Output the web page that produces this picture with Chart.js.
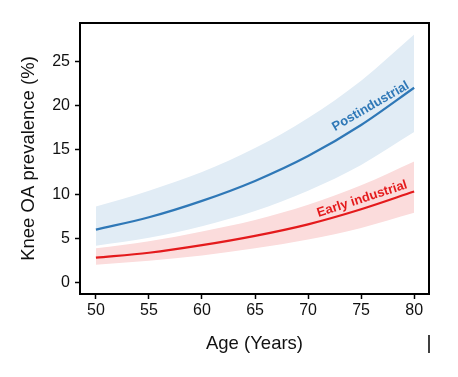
<!DOCTYPE html>
<html>
<head>
<meta charset="utf-8">
<script src="https://cdn.jsdelivr.net/npm/chart.js@4.4.1/dist/chart.umd.min.js"></script>
<style>
  html, body { margin: 0; padding: 0; background: #fff; }
  #wrap { position: relative; width: 458px; height: 377px; }
</style>
</head>
<body>
<div id="wrap"><canvas id="c" width="458" height="377"></canvas></div>
<script>
// Data
const ages = [50, 55, 60, 65, 70, 75, 80];
const postLine  = [6.0, 7.4, 9.25, 11.5, 14.3, 17.8, 22.0];
const postUpper = [8.6, 10.4, 12.5, 15.2, 18.6, 22.8, 28.0];
const postLower = [4.2, 5.1, 6.4, 8.1, 10.4, 13.3, 17.0];
const earlyLine  = [2.85, 3.4, 4.25, 5.3, 6.6, 8.3, 10.3];
const earlyUpper = [3.9, 4.7, 5.8, 7.1, 8.8, 11.0, 13.7];
const earlyLower = [2.05, 2.5, 3.1, 3.9, 4.9, 6.2, 7.9];
const xTicks = [50, 55, 60, 65, 70, 75, 80];
const yTicks = [0, 5, 10, 15, 20, 25];
const seriesLabels = ['Postindustrial', 'Early industrial'];
const xTitle = 'Age (Years)';
const yTitle = 'Knee OA prevalence (%)';

const BLUE = '#2f78b7', BLUE_BAND = '#e1ecf5';
const RED = '#e41a1c', RED_BAND = '#fbdcdc';
const FONT = "'Liberation Sans', Arial, Helvetica, sans-serif";

const pts = arr => ages.map((a, i) => ({x: a, y: arr[i]}));
const common = {pointRadius: 0, cubicInterpolationMode: 'monotone'};

const labelPlugin = {
  id: 'extras',
  afterDatasetsDraw(chart) {
    const ctx = chart.ctx, xs = chart.scales.x, ys = chart.scales.y, ca = chart.chartArea;
    const labs = [
      {t: seriesLabels[0], x: 75.9, y: 19.9, rot: -30, c: BLUE},
      {t: seriesLabels[1], x: 75.1, y: 9.45, rot: -18, c: RED}
    ];
    ctx.save();
    ctx.font = "bold 13px " + FONT;
    ctx.textAlign = 'center';
    ctx.textBaseline = 'middle';
    labs.forEach(l => {
      ctx.save();
      ctx.translate(xs.getPixelForValue(l.x), ys.getPixelForValue(l.y));
      ctx.rotate(l.rot * Math.PI / 180);
      ctx.fillStyle = l.c;
      ctx.fillText(l.t, 0, 0);
      ctx.restore();
    });
    ctx.strokeStyle = '#000';
    ctx.lineWidth = 2;
    ctx.strokeRect(ca.left, ca.top, ca.right - ca.left, ca.bottom - ca.top);
    ctx.lineWidth = 1.5;
    ctx.beginPath();
    ctx.moveTo(ca.right, 335);
    ctx.lineTo(ca.right, 353);
    ctx.stroke();
    ctx.restore();
  }
};

new Chart(document.getElementById('c'), {
  type: 'line',
  data: {
    datasets: [
      Object.assign({data: pts(postLine), borderColor: BLUE, borderWidth: 2.2, fill: false}, common),
      Object.assign({data: pts(earlyLine), borderColor: RED, borderWidth: 2.2, fill: false}, common),
      Object.assign({data: pts(postUpper), borderWidth: 0, backgroundColor: BLUE_BAND, fill: '+1'}, common),
      Object.assign({data: pts(postLower), borderWidth: 0, fill: false}, common),
      Object.assign({data: pts(earlyUpper), borderWidth: 0, backgroundColor: RED_BAND, fill: '+1'}, common),
      Object.assign({data: pts(earlyLower), borderWidth: 0, fill: false}, common)
    ]
  },
  options: {
    responsive: false,
    animation: false,
    devicePixelRatio: 1,
    layout: {padding: {top: 23, right: 29, left: 0, bottom: 0}},
    plugins: {legend: {display: false}, tooltip: {enabled: false}},
    scales: {
      x: {
        type: 'linear', min: 48.5, max: 81.4,
        afterBuildTicks: s => { s.ticks = xTicks.map(v => ({value: v})); },
        afterFit: s => { s.height = 83; },
        grid: {display: true, drawOnChartArea: false, drawTicks: true, tickLength: 5, tickWidth: 1.5, color: '#000'},
        border: {display: true, color: '#000', width: 2},
        ticks: {color: '#111', font: {family: FONT, size: 16}, padding: 2, maxRotation: 0, autoSkip: false},
        title: {display: true, text: xTitle, color: '#111', font: {family: FONT, size: 18.5}, padding: {top: 0, bottom: 22}}
      },
      y: {
        type: 'linear', min: -1.25, max: 29.3,
        afterBuildTicks: s => { s.ticks = yTicks.map(v => ({value: v})); },
        afterFit: s => { s.width = 80; },
        grid: {display: true, drawOnChartArea: false, drawTicks: true, tickLength: 5, tickWidth: 1.5, color: '#000'},
        border: {display: true, color: '#000', width: 2},
        ticks: {color: '#111', font: {family: FONT, size: 16}, padding: 5, autoSkip: false},
        title: {display: true, text: yTitle, color: '#111', font: {family: FONT, size: 18.5}, padding: {top: 18, bottom: 0}}
      }
    }
  },
  plugins: [labelPlugin]
});
</script>
</body>
</html>
